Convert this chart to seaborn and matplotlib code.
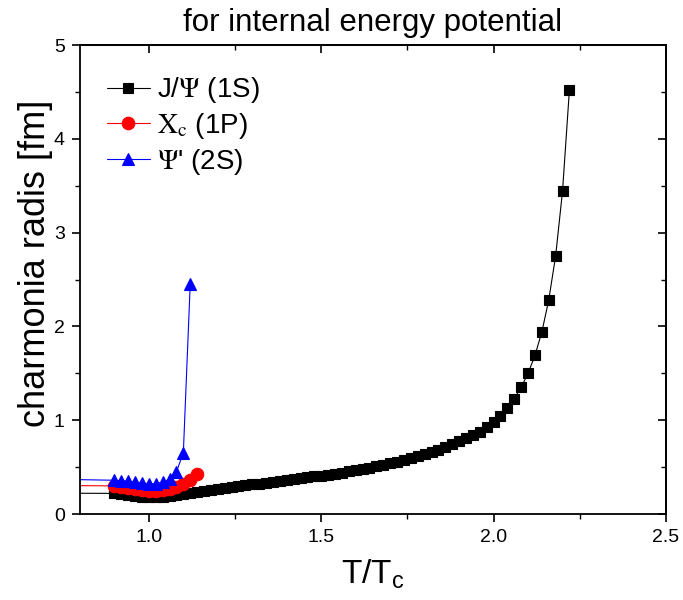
import numpy as np
import pandas as pd
import matplotlib
matplotlib.use("Agg")
import matplotlib.pyplot as plt
import seaborn as sns
from matplotlib.ticker import MultipleLocator
from matplotlib.font_manager import FontProperties

# ---------------- data ----------------
jpsi_t = [0.50,
          0.90, 0.92, 0.94, 0.96, 0.98, 1.00, 1.02, 1.04, 1.06, 1.08,
          1.10, 1.12, 1.14, 1.16, 1.18, 1.20, 1.22, 1.24, 1.26, 1.28,
          1.30, 1.32, 1.34, 1.36, 1.38, 1.40, 1.42, 1.44, 1.46, 1.48,
          1.50, 1.52, 1.54, 1.56, 1.58, 1.60, 1.62, 1.64, 1.66, 1.68,
          1.70, 1.72, 1.74, 1.76, 1.78, 1.80, 1.82, 1.84, 1.86, 1.88,
          1.90, 1.92, 1.94, 1.96, 1.98, 2.00, 2.02, 2.04, 2.06, 2.08,
          2.10, 2.12, 2.14, 2.16, 2.18, 2.20, 2.22]
jpsi_r = [0.225,
          0.22, 0.21, 0.20, 0.195, 0.185, 0.18, 0.18, 0.185, 0.19, 0.20,
          0.21, 0.22, 0.235, 0.245, 0.255, 0.265, 0.275, 0.285, 0.295, 0.305,
          0.315, 0.325, 0.335, 0.345, 0.355, 0.365, 0.375, 0.383, 0.392, 0.40,
          0.41, 0.42, 0.43, 0.44, 0.455, 0.47, 0.48, 0.495, 0.51, 0.525,
          0.54, 0.555, 0.575, 0.595, 0.615, 0.635, 0.66, 0.685, 0.715, 0.745,
          0.78, 0.815, 0.84, 0.87, 0.925, 0.98, 1.05, 1.13, 1.23, 1.35,
          1.50, 1.69, 1.94, 2.28, 2.75, 3.44, 4.52]

chic_t = [0.50, 0.90, 0.92, 0.94, 0.96, 0.98, 1.00, 1.02, 1.04, 1.06,
          1.08, 1.10, 1.12, 1.14]
chic_r = [0.31, 0.30, 0.29, 0.28, 0.27, 0.255, 0.245, 0.245, 0.255, 0.27,
          0.29, 0.32, 0.36, 0.43]

psi2_t = [0.50, 0.90, 0.92, 0.94, 0.96, 0.98, 1.00, 1.02, 1.04, 1.06,
          1.08, 1.10, 1.12]
psi2_r = [0.385, 0.36, 0.355, 0.35, 0.34, 0.33, 0.32, 0.325, 0.34, 0.37,
          0.45, 0.65, 2.45]

labels = [r"J/$\Psi$ (1S)", r"$\mathrm{X}_{\mathrm{c}}$ (1P)", r"$\Psi$' (2S)"]
colors = ["black", "#ff0000", "#0000ff"]
markers = ["s", "o", "^"]
msizes = [7.5, 9, 9]

x_ticks = [1.0, 1.5, 2.0, 2.5]
y_ticks = [0, 1, 2, 3, 4, 5]

# ---------------- plot ----------------
sns.set_style("ticks")
plt.rcParams["font.family"] = ["Liberation Sans", "DejaVu Sans"]
plt.rcParams["mathtext.fontset"] = "custom"
plt.rcParams["mathtext.rm"] = "Liberation Sans"
plt.rcParams["mathtext.it"] = "Liberation Sans:italic"
plt.rcParams["mathtext.sf"] = "Liberation Sans"
for k in ["text.color", "axes.labelcolor", "xtick.color", "ytick.color",
          "axes.edgecolor"]:
    plt.rcParams[k] = "black"

fig = plt.figure(figsize=(6.83, 6.0), dpi=100)
ax = fig.add_axes([0.117, 0.1433, 0.858, 0.7817])

series = [(jpsi_t, jpsi_r), (chic_t, chic_r), (psi2_t, psi2_r)]
for (t, r), lab, c, m, ms in zip(series, labels, colors, markers, msizes):
    df = pd.DataFrame({"t": t, "r": r})
    sns.lineplot(data=df, x="t", y="r", ax=ax, color=c, marker=m,
                 markersize=ms, markeredgecolor=c, markeredgewidth=0.8,
                 linewidth=0.8, label=lab, sort=False, estimator=None)

ax.set_xlim(0.8, 2.5)
ax.set_ylim(0, 5)
ax.set_xticks(x_ticks)
ax.set_xticklabels([f"{v:.1f}" for v in x_ticks])
ax.set_yticks(y_ticks)
ax.set_yticklabels([str(v) for v in y_ticks])
ax.xaxis.set_minor_locator(MultipleLocator(0.25))
ax.yaxis.set_minor_locator(MultipleLocator(0.5))

for s in ax.spines.values():
    s.set_linewidth(1.3)
    s.set_visible(True)
ax.tick_params(which="major", direction="out", length=6, width=1.2,
               labelsize=14, pad=5)
ax.tick_params(which="minor", direction="out", length=3.5, width=1.0)

top = ax.secondary_xaxis("top")
top.set_xticks(x_ticks)
top.xaxis.set_minor_locator(MultipleLocator(0.25))
top.tick_params(which="major", direction="in", length=6, width=1.2, labeltop=False)
top.tick_params(which="minor", direction="in", length=3.5, width=1.0)
right = ax.secondary_yaxis("right")
right.set_yticks(y_ticks)
right.yaxis.set_minor_locator(MultipleLocator(0.5))
right.tick_params(which="major", direction="in", length=6, width=1.2, labelright=False)
right.tick_params(which="minor", direction="in", length=3.5, width=1.0)
for sec in (top, right):
    for s in sec.spines.values():
        s.set_linewidth(1.3)

ax.set_xlabel(r"T/T$_{\mathrm{c}}$", fontsize=24, labelpad=8)
ax.set_ylabel("charmonia radis [fm]", fontsize=26, labelpad=5)
ax.yaxis.set_label_coords(-0.046, 0.535)
ax.set_title("for internal energy potential", fontsize=22.5, pad=10)

leg_font = FontProperties(family=["Liberation Sans", "DejaVu Sans"], size=20,
                          math_fontfamily="stix")
leg = ax.legend(loc="upper left", frameon=False, prop=leg_font,
                handlelength=1.55, handletextpad=0.25, labelspacing=0.2,
                borderpad=0, borderaxespad=0,
                bbox_to_anchor=(0.046, 0.935))

fig.savefig("out.png", dpi=100)
